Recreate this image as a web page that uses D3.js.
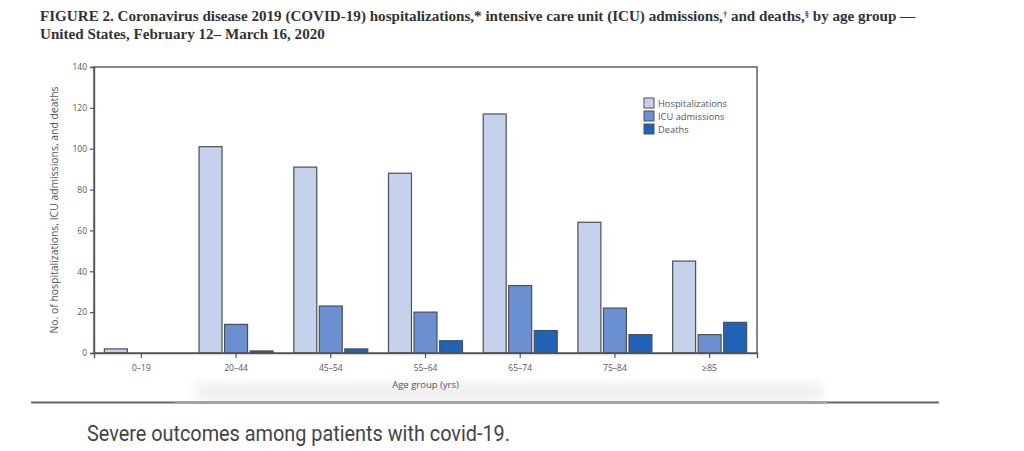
<!DOCTYPE html>
<html>
<head>
<meta charset="utf-8">
<script src="https://cdn.jsdelivr.net/npm/d3@7"></script>
<style>
  body { margin: 0; background: #fff; }
</style>
</head>
<body>
<div class="container"></div>
<script>
const ageGroups = ['0–19', '20–44', '45–54', '55–64', '65–74', '75–84', '≥85'];
const seriesNames = ['Hospitalizations', 'ICU admissions', 'Deaths'];
const hospitalizations = [2, 101, 91, 88, 117, 64, 45];
const icuAdmissions = [0, 14, 23, 20, 33, 22, 9];
const deaths = [0, 1, 2, 6, 11, 9, 15];
const yTicks = [0, 20, 40, 60, 80, 100, 120, 140];

const width = 1024;
const height = 451;
const colors = ['#c6d2ec', '#6a90d1', '#2062b5'];

const svg = d3.select('.container')
              .append('svg')
              .attr('width', width)
              .attr('height', height);

const defs = svg.append('defs');
defs.append('filter').attr('id', 'blur')
    .attr('x', '-10%').attr('y', '-50%').attr('width', '120%').attr('height', '200%')
    .append('feGaussianBlur').attr('stdDeviation', 5);

// Soft shadow under the figure (drawn first, behind the text)
svg.append('rect')
    .attr('x', 195).attr('y', 382).attr('width', 627).attr('height', 20)
    .attr('fill', '#f1f1f1')
    .attr('filter', 'url(#blur)');

// Title
const titleFont = 'Liberation Serif';
const titleSize = 15.1;
const line1 = svg.append('text')
    .attr('x', 40).attr('y', 21)
    .attr('font-family', titleFont)
    .attr('font-size', titleSize)
    .attr('font-weight', 'bold')
    .attr('fill', '#333');
const parts = [
    ['FIGURE 2. Coronavirus disease 2019 (COVID-19) hospitalizations,* intensive care unit (ICU) admissions,', false],
    ['†', true],
    [' and deaths,', false],
    ['§', true],
    [' by age group —', false]
];
parts.forEach(([t, sup]) => {
    line1.append('tspan')
        .attr('font-size', sup ? 8.5 : titleSize)
        .attr('baseline-shift', sup ? '4' : null)
        .text(t);
});
svg.append('text')
    .attr('x', 40).attr('y', 39)
    .attr('font-family', titleFont)
    .attr('font-size', titleSize)
    .attr('font-weight', 'bold')
    .attr('fill', '#333')
    .text('United States, February 12– March 16, 2020');

// Plot area
const plotLeft = 94, plotRight = 757, plotTop = 67, plotBottom = 353;

const x0 = d3.scaleBand().domain(ageGroups).range([plotLeft, plotRight]);
const x1 = d3.scaleBand().domain(seriesNames).range([0, 74]).paddingInner(0.1);
const y = d3.scaleLinear().domain([0, 140]).range([plotBottom, plotTop]);

const rows = ageGroups.map((g, i) => ({
    group: g,
    values: [hospitalizations[i], icuAdmissions[i], deaths[i]]
}));

const groups = svg.append('g').selectAll('g')
    .data(rows)
    .join('g')
    .attr('transform', d => `translate(${x0(d.group) + x0.bandwidth() / 2 - 37},0)`);

groups.selectAll('rect')
    .data(d => d.values.map((v, k) => ({ k, v })).filter(e => e.v > 0))
    .join('rect')
    .attr('x', e => x1(seriesNames[e.k]))
    .attr('width', x1.bandwidth())
    .attr('y', e => y(e.v))
    .attr('height', e => y(0) - y(e.v))
    .attr('fill', e => colors[e.k])
    .attr('stroke', '#4a4f5a')
    .attr('stroke-width', 1.2);

// Frame
svg.append('rect')
    .attr('x', plotLeft).attr('y', plotTop)
    .attr('width', plotRight - plotLeft).attr('height', plotBottom - plotTop)
    .attr('fill', 'none').attr('stroke', '#555').attr('stroke-width', 1.4);

// Axes
const yAxis = svg.append('g')
    .attr('transform', `translate(${plotLeft},0)`)
    .call(d3.axisLeft(y).tickValues(yTicks).tickSize(4).tickPadding(3));
const xAxis = svg.append('g')
    .attr('transform', `translate(0,${plotBottom})`)
    .call(d3.axisBottom(x0).tickSize(5).tickPadding(7));

[yAxis, xAxis].forEach(a => {
    a.select('.domain').attr('stroke', '#555').attr('stroke-width', 1.4);
    a.selectAll('.tick line').attr('stroke', '#555').attr('stroke-width', 1.2);
    a.selectAll('.tick text')
        .attr('font-family', 'Open Sans')
        .attr('font-size', 8.5)
        .attr('fill', '#555');
});

// Axis titles
svg.append('text')
    .attr('transform', `translate(58,${(plotTop + plotBottom) / 2}) rotate(-90)`)
    .attr('text-anchor', 'middle')
    .attr('font-family', 'Open Sans')
    .attr('font-size', 10.4)
    .attr('fill', '#555')
    .text('No. of hospitalizations, ICU admissions, and deaths');

svg.append('text')
    .attr('x', (plotLeft + plotRight) / 2)
    .attr('y', 388)
    .attr('text-anchor', 'middle')
    .attr('font-family', 'Open Sans')
    .attr('font-size', 9.5)
    .attr('fill', '#555')
    .text('Age group (yrs)');

// Legend
const legend = svg.append('g').selectAll('g')
    .data(seriesNames)
    .join('g')
    .attr('transform', (d, i) => `translate(644,${98 + i * 13})`);
legend.append('rect')
    .attr('width', 10).attr('height', 10)
    .attr('fill', (d, i) => colors[i])
    .attr('stroke', '#4a4f5a').attr('stroke-width', 1);
legend.append('text')
    .attr('x', 14).attr('y', 8.5)
    .attr('font-family', 'Open Sans')
    .attr('font-size', 9.3)
    .attr('fill', '#555')
    .text(d => d);

// Rule under the figure: dark ends, lighter middle under the shadow
svg.append('line')
    .attr('x1', 31).attr('x2', 939).attr('y1', 402.5).attr('y2', 402.5)
    .attr('stroke', '#666').attr('stroke-width', 2);
svg.append('line')
    .attr('x1', 175).attr('x2', 827).attr('y1', 402.5).attr('y2', 402.5)
    .attr('stroke', '#a0a0a0').attr('stroke-width', 2);

// Caption
svg.append('text')
    .attr('x', 87).attr('y', 441)
    .attr('font-family', 'Roboto')
    .attr('font-size', 22)
    .attr('textLength', 423)
    .attr('lengthAdjust', 'spacingAndGlyphs')
    .attr('fill', '#444')
    .text('Severe outcomes among patients with covid-19.');
</script>
</body>
</html>
